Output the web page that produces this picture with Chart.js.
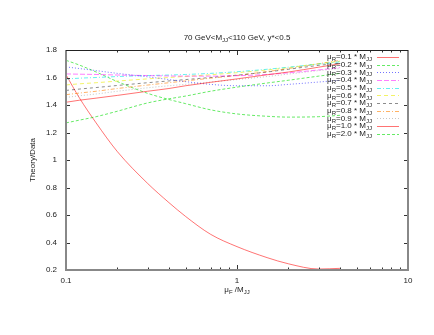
<!DOCTYPE html>
<html>
<head>
<meta charset="utf-8">
<script src="https://cdn.jsdelivr.net/npm/chart.js@4"></script>
<style>
  html, body { margin: 0; padding: 0; background: #fff; }
  #c { display: block; }
</style>
</head>
<body>
<canvas id="c" width="434" height="335"></canvas>
<script>
/* global Chart */

// mu_F / M_JJ sample points
const xs = [0.1, 0.12, 0.15, 0.2, 0.3, 0.4, 0.5, 0.7, 1, 1.5, 2, 3, 4];

// Theory/Data for each mu_R choice
const r01 = [1.42, 1.435, 1.45, 1.47, 1.50, 1.52, 1.54, 1.565, 1.59, 1.62, 1.64, 1.675, 1.70];
const r02 = [1.27, 1.29, 1.315, 1.355, 1.415, 1.445, 1.465, 1.50, 1.53, 1.56, 1.58, 1.61, 1.63];
const r03 = [1.677, 1.665, 1.65, 1.63, 1.605, 1.585, 1.57, 1.55, 1.54, 1.54, 1.55, 1.567, 1.58];
const r04 = [1.626, 1.624, 1.622, 1.618, 1.614, 1.611, 1.61, 1.61, 1.613, 1.622, 1.634, 1.655, 1.672];
const r05 = [1.589, 1.595, 1.60, 1.607, 1.614, 1.618, 1.622, 1.63, 1.642, 1.66, 1.675, 1.698, 1.714];
const r06 = [1.546, 1.554, 1.562, 1.574, 1.59, 1.60, 1.608, 1.62, 1.635, 1.655, 1.672, 1.70, 1.718];
const r07 = [1.506, 1.516, 1.527, 1.542, 1.562, 1.575, 1.585, 1.60, 1.617, 1.64, 1.66, 1.688, 1.705];
const r08 = [1.475, 1.487, 1.50, 1.52, 1.545, 1.562, 1.575, 1.595, 1.615, 1.643, 1.665, 1.70, 1.724];
const r09 = [1.455, 1.467, 1.48, 1.50, 1.525, 1.54, 1.55, 1.567, 1.585, 1.607, 1.625, 1.65, 1.665];
const r10 = [1.62, 1.45, 1.27, 1.06, 0.83, 0.69, 0.59, 0.46, 0.37, 0.29, 0.245, 0.207, 0.212];
const r20 = [1.725, 1.69, 1.64, 1.57, 1.485, 1.44, 1.41, 1.365, 1.335, 1.318, 1.312, 1.315, 1.325];

const muR = ["0.1", "0.2", "0.3", "0.4", "0.5", "0.6", "0.7", "0.8", "0.9", "1.0", "2.0"];
const series = [r01, r02, r03, r04, r05, r06, r07, r08, r09, r10, r20];

const yTicks = [0.2, 0.4, 0.6, 0.8, 1, 1.2, 1.4, 1.6, 1.8];

const styles = [
  { color: "rgba(255,0,0,0.55)", dash: [] },
  { color: "rgba(0,220,0,0.6)", dash: [3, 2] },
  { color: "rgba(0,0,255,0.55)", dash: [1, 2] },
  { color: "rgba(255,0,255,0.5)", dash: [5, 2] },
  { color: "rgba(0,230,230,0.6)", dash: [4, 2, 1, 2] },
  { color: "rgba(235,235,0,0.6)", dash: [4, 3] },
  { color: "rgba(0,0,0,0.45)", dash: [3, 3] },
  { color: "rgba(255,128,0,0.6)", dash: [4, 2, 1, 2] },
  { color: "rgba(128,128,128,0.45)", dash: [1, 2] },
  { color: "rgba(255,0,0,0.55)", dash: [] },
  { color: "rgba(0,220,0,0.6)", dash: [3, 2] },
];

const FONT = "Liberation Sans, Arial, sans-serif";

// text with subscripts: parts = [[text, isSub], ...]
function richWidth(ctx, parts) {
  let w = 0;
  parts.forEach(([t, sub]) => {
    ctx.font = `${sub ? 6 : 8}px ${FONT}`;
    w += ctx.measureText(t).width;
  });
  return w;
}

function drawRich(ctx, parts, x, y, align) {
  const w = richWidth(ctx, parts);
  let cx = align === "right" ? x - w : align === "center" ? x - w / 2 : x;
  ctx.textBaseline = "middle";
  ctx.textAlign = "left";
  parts.forEach(([t, sub]) => {
    ctx.font = `${sub ? 6 : 8}px ${FONT}`;
    ctx.fillText(t, cx, sub ? y + 2.5 : y);
    cx += ctx.measureText(t).width;
  });
}

const decor = {
  id: "decor",
  afterDraw(chart) {
    const { ctx, chartArea: a, scales } = chart;
    const xS = scales.x;
    const yS = scales.y;
    ctx.save();

    // ticks, drawn inward on all four sides
    ctx.strokeStyle = "#333";
    ctx.lineWidth = 1;
    ctx.setLineDash([]);
    ctx.beginPath();
    yTicks.forEach((v) => {
      const py = Math.round(yS.getPixelForValue(v)) + 0.5;
      ctx.moveTo(a.left, py); ctx.lineTo(a.left + 4, py);
      ctx.moveTo(a.right, py); ctx.lineTo(a.right - 4, py);
    });
    [0.1, 1].forEach((dec) => {
      for (let k = 1; k <= 10; k++) {
        const v = dec * k;
        const len = k === 1 || k === 10 ? 5 : 2.5;
        const px = Math.round(xS.getPixelForValue(v)) + 0.5;
        ctx.moveTo(px, a.bottom); ctx.lineTo(px, a.bottom - len);
        ctx.moveTo(px, a.top); ctx.lineTo(px, a.top + len);
      }
    });
    ctx.stroke();

    // border
    ctx.strokeStyle = "#888";
    ctx.lineWidth = 2;
    ctx.beginPath();
    ctx.moveTo(a.left, a.top); ctx.lineTo(a.left, a.bottom);
    ctx.lineTo(a.right, a.bottom); ctx.lineTo(a.right, a.top);
    ctx.stroke();
    ctx.strokeStyle = "#222";
    ctx.lineWidth = 1;
    ctx.beginPath();
    ctx.moveTo(a.left, a.top + 0.5); ctx.lineTo(a.right, a.top + 0.5);
    ctx.stroke();

    ctx.fillStyle = "#222";
    // title
    drawRich(ctx, [["70 GeV<M", 0], ["JJ", 1], ["<110 GeV, y*<0.5", 0]], (a.left + a.right) / 2, 38, "center");
    // x axis title
    drawRich(ctx, [["\u03bc", 0], ["F", 1], [" /M", 0], ["JJ", 1]], (a.left + a.right) / 2, 290, "center");
    // y axis title
    ctx.save();
    ctx.translate(33, (a.top + a.bottom) / 2);
    ctx.rotate(-Math.PI / 2);
    drawRich(ctx, [["Theory/Data", 0]], 0, 0, "center");
    ctx.restore();

    // legend
    muR.forEach((m, i) => {
      const ly = 57 + i * 7.67;
      ctx.fillStyle = "#222";
      drawRich(ctx, [["\u03bc", 0], ["R", 1], [`=${m} * M`, 0], ["JJ", 1]], 372, ly, "right");
      const st = styles[i];
      ctx.strokeStyle = st.color;
      ctx.setLineDash(st.dash);
      ctx.lineWidth = 1;
      ctx.beginPath();
      ctx.moveTo(377, Math.round(ly) + 0.5);
      ctx.lineTo(399, Math.round(ly) + 0.5);
      ctx.stroke();
    });
    ctx.restore();
  },
};

const datasets = series.map((ys, i) => ({
  label: `muR=${muR[i]}`,
  data: xs.map((x, j) => ({ x, y: ys[j] })),
  borderColor: styles[i].color,
  borderDash: styles[i].dash,
  borderWidth: 1,
  pointRadius: 0,
  fill: false,
  cubicInterpolationMode: "monotone",
}));

new Chart(document.getElementById("c"), {
  type: "line",
  data: { datasets },
  options: {
    responsive: false,
    animation: false,
    events: [],
    layout: { padding: { left: 0, right: 26, top: 50, bottom: 0 } },
    plugins: { legend: { display: false }, tooltip: { enabled: false }, title: { display: false } },
    scales: {
      x: {
        type: "logarithmic",
        min: 0.1,
        max: 10,
        grid: { display: false, drawTicks: false },
        border: { display: false },
        afterFit: (s) => { s.height = 65; },
        ticks: {
          autoSkip: false,
          maxRotation: 0,
          padding: 6,
          color: "#222",
          font: { family: FONT, size: 8 },
          callback: (v) => {
            const l = Math.log10(v);
            return Math.abs(l - Math.round(l)) < 1e-9 ? String(parseFloat(v.toPrecision(3))) : "";
          },
        },
      },
      y: {
        min: 0.2,
        max: 1.8,
        grid: { display: false, drawTicks: false },
        border: { display: false },
        afterFit: (s) => { s.width = 66; },
        afterBuildTicks: (s) => { s.ticks = yTicks.map((v) => ({ value: v })); },
        ticks: {
          padding: 9,
          color: "#222",
          font: { family: FONT, size: 8 },
          callback: (v) => String(parseFloat(Number(v).toFixed(1))),
        },
      },
    },
  },
  plugins: [decor],
});
</script>
</body>
</html>
